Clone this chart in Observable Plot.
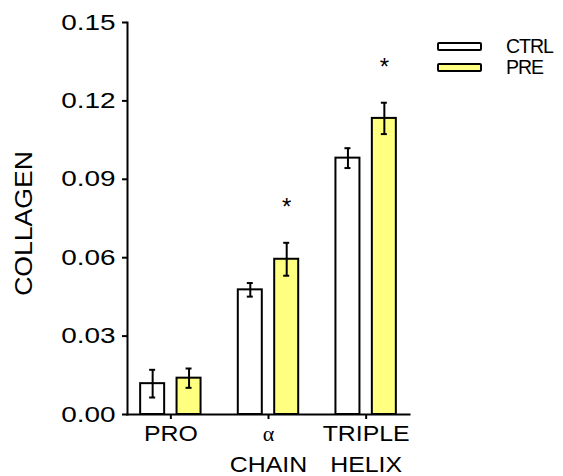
<!DOCTYPE html>
<html><head><meta charset="utf-8">
<script src="https://cdn.jsdelivr.net/npm/d3@7"></script>
<script src="https://cdn.jsdelivr.net/npm/@observablehq/plot@0.6"></script>
<style>
body{margin:0;background:#fff;}
#wrap{position:relative;width:563px;height:476px;font-family:"Liberation Sans",Arial,sans-serif;color:#000;}
#wrap svg [aria-label="y-axis label"] text{font-size:23.5px;}
.legend{position:absolute;left:437px;top:35.5px;}
.row{display:flex;align-items:center;height:21px;}
.sw{width:41px;height:5px;border:2px solid #000;border-radius:2px;margin-right:24px;}
.lab{font-size:19.5px;letter-spacing:-1px;}
</style></head><body><div id="wrap"></div>
<script>
const categories = ["PRO", "α CHAIN", "TRIPLE HELIX"];
const tickLabels = ["PRO", "α\nCHAIN", "TRIPLE\nHELIX"];
const series = ["CTRL", "PRE"];
const seriesColors = ["#ffffff", "#ffff80"];
const ctrlMean = [0.0118, 0.0477, 0.0981];
const ctrlSem  = [0.0053, 0.0026, 0.0038];
const preMean  = [0.0139, 0.0594, 0.1133];
const preSem   = [0.0037, 0.0063, 0.0060];
const significant = [false, true, true];
const yTicks = [0, 0.03, 0.06, 0.09, 0.12, 0.15];

const rows = categories.map((c, i) => ({
  cat: c, ctrl: ctrlMean[i], ctrlSem: ctrlSem[i], pre: preMean[i], preSem: preSem[i], sig: significant[i]
}));

const W = 563 - 127 - 154, po = -0.056;
const bw = W / (categories.length + 2 * po);
const BAR = 24, OFF = 18.2, CAP = 6;
const barIn = (bw - BAR) / 2, capIn = (bw - CAP) / 2;

function errMarks(mean, sem, dx) {
  return [
    Plot.ruleX(rows, {x: "cat", y1: d => d[mean] - d[sem], y2: d => d[mean] + d[sem], stroke: "#000", strokeWidth: 2, dx}),
    Plot.tickY(rows, {x: "cat", y: d => d[mean] - d[sem], insetLeft: capIn, insetRight: capIn, stroke: "#000", strokeWidth: 2, dx}),
    Plot.tickY(rows, {x: "cat", y: d => d[mean] + d[sem], insetLeft: capIn, insetRight: capIn, stroke: "#000", strokeWidth: 2, dx})
  ];
}

const plot = Plot.plot({
  width: 563, height: 476,
  marginLeft: 127, marginRight: 154, marginTop: 22, marginBottom: 62,
  style: {fontFamily: '"Liberation Sans", Arial, sans-serif', fontSize: "22px", color: "#000", background: "#fff", overflow: "visible"},
  x: {type: "band", domain: categories, paddingInner: 0, paddingOuter: po, round: false},
  y: {domain: [0, 0.15]},
  marks: [
    Plot.barY(rows, {x: "cat", y: "ctrl", fill: seriesColors[0], stroke: "#000", strokeWidth: 2, insetLeft: barIn, insetRight: barIn, dx: -OFF}),
    Plot.barY(rows, {x: "cat", y: "pre", fill: seriesColors[1], stroke: "#000", strokeWidth: 2, insetLeft: barIn, insetRight: barIn, dx: OFF}),
    ...errMarks("ctrl", "ctrlSem", -OFF),
    ...errMarks("pre", "preSem", OFF),
    Plot.text(rows.filter(d => d.sig), {x: "cat", y: d => d.pre + d.preSem + 0.0135, text: () => "*", dx: OFF, fontSize: 24, fill: "#000"}),
    Plot.frame({anchor: "left", stroke: "#000", strokeWidth: 2}),
    Plot.frame({anchor: "bottom", stroke: "#000", strokeWidth: 2}),
    Plot.axisY({ticks: yTicks, tickFormat: d3.format(".2f"), tickSize: 5, tickPadding: 7, stroke: "#000", strokeWidth: 2, fontSize: 22,
      label: "COLLAGEN", labelAnchor: "center", labelOffset: 112, labelArrow: "none"}),
    Plot.axisX({tickSize: 5, tickPadding: -1, stroke: "#000", strokeWidth: 2, fontSize: 22, lineHeight: 1.42,
      tickFormat: d => tickLabels[categories.indexOf(d)], label: null})
  ]
});
plot.querySelectorAll("tspan, text").forEach(t => {
  if (t.textContent === "α") t.style.fontFamily = '"Liberation Serif", "DejaVu Serif", serif';
});
const wrap = document.getElementById("wrap");
wrap.appendChild(plot);

function stretch(sel, k) {
  plot.querySelectorAll(sel).forEach(t => {
    const parts = t.querySelectorAll("tspan");
    (parts.length ? Array.from(parts) : [t]).forEach(p => {
      if (p.textContent === "α") return;
      const L = p.getComputedTextLength();
      p.setAttribute("textLength", (L * k).toFixed(2));
      p.setAttribute("lengthAdjust", "spacingAndGlyphs");
    });
  });
}
stretch('[aria-label="y-axis tick label"] text', 1.27);
stretch('[aria-label="x-axis tick label"] text', 1.13);
stretch('[aria-label="y-axis label"] text', 1.13);
plot.querySelectorAll('[aria-label="y-axis label"] text').forEach(t => t.setAttribute("dx", "-5"));

const legend = document.createElement("div");
legend.className = "legend";
series.forEach((s, i) => {
  const r = document.createElement("div"); r.className = "row";
  const sw = document.createElement("div"); sw.className = "sw"; sw.style.background = seriesColors[i];
  const lb = document.createElement("span"); lb.className = "lab"; lb.textContent = s;
  r.appendChild(sw); r.appendChild(lb); legend.appendChild(r);
});
wrap.appendChild(legend);
</script></body></html>
